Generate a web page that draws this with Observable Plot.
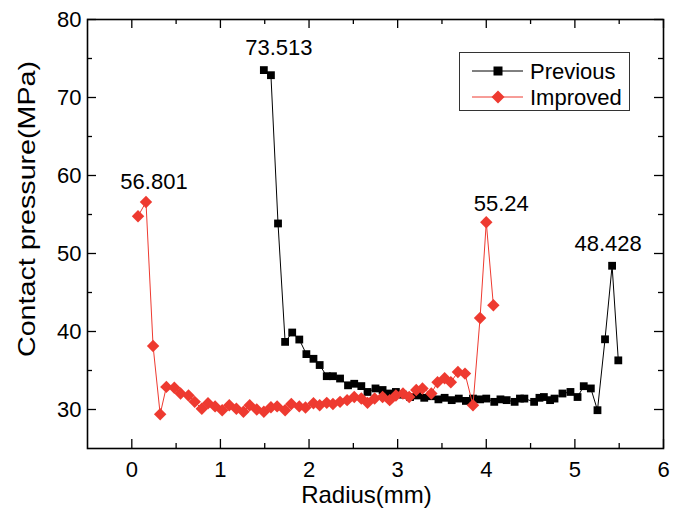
<!DOCTYPE html>
<html>
<head>
<meta charset="utf-8">
<script src="https://cdn.jsdelivr.net/npm/d3@7"></script>
<script src="https://cdn.jsdelivr.net/npm/@observablehq/plot@0.6"></script>
<style>
  html, body { margin: 0; padding: 0; background: #fff; }
  #wrap { position: relative; width: 686px; height: 513px; font-family: "Liberation Sans", Arial, sans-serif; }
  #legend { position: absolute; left: 459px; top: 52px; }
</style>
</head>
<body>
<div id="wrap"></div>
<script>
// ---- data ----
const prevX = [1.49,1.57,1.65,1.73,1.81,1.89,1.97,2.05,2.12,2.20,2.27,2.35,2.44,2.51,2.59,2.66,2.75,2.83,2.91,2.98,3.06,3.14,3.22,3.30,3.38,3.46,3.53,3.61,3.69,3.77,3.85,3.93,4.00,4.09,4.16,4.23,4.32,4.38,4.43,4.54,4.60,4.65,4.72,4.77,4.86,4.95,5.03,5.10,5.18,5.255,5.34,5.42,5.49];
const prevY = [73.513,72.86,53.85,38.67,39.87,38.97,37.1,36.5,35.7,34.27,34.27,33.97,33.1,33.3,33.0,32.25,32.7,32.5,32.05,32.25,31.9,31.6,31.8,31.5,31.7,31.3,31.5,31.2,31.4,31.1,31.4,31.3,31.4,30.98,31.3,31.2,30.98,31.4,31.4,30.98,31.5,31.6,31.2,31.4,32.05,32.25,31.6,32.99,32.7,29.91,39.0,48.428,36.3];
const impX = [0.07,0.16,0.24,0.32,0.39,0.48,0.55,0.64,0.71,0.79,0.86,0.94,1.02,1.10,1.18,1.26,1.33,1.41,1.49,1.57,1.64,1.73,1.80,1.89,1.96,2.05,2.12,2.20,2.27,2.35,2.43,2.51,2.59,2.66,2.74,2.83,2.91,2.98,3.06,3.13,3.21,3.28,3.38,3.45,3.53,3.60,3.68,3.76,3.85,3.93,4.00,4.08];
const impY = [54.78,56.6,38.15,29.4,32.9,32.8,32.05,31.8,30.98,30.1,30.8,30.4,29.9,30.55,30.1,29.7,30.55,30.0,29.7,30.3,30.4,29.9,30.7,30.4,30.25,30.8,30.55,30.85,30.7,30.98,31.2,31.6,31.4,30.85,31.4,31.6,31.2,31.8,32.05,31.6,32.5,32.7,32.05,33.5,34.0,33.5,34.8,34.6,30.55,41.74,54.0,43.37];
const seriesNames = ["Previous", "Improved"];
const xMajor = [0,1,2,3,4,5,6];
const xMinor = [0.5,1.5,2.5,3.5,4.5,5.5];
const yMajor = [30,40,50,60,70,80];
const yMinor = [35,45,55,65,75];
const xTitle = "Radius(mm)";
const yTitle = "Contact pressure(MPa)";
// peak annotations: series, index in series, label
const peakSeries = ["Previous","Improved","Improved","Previous"];
const peakIndex = [0,1,50,51];
const peakText = ["73.513","56.801","55.24","48.428"];

const prev = prevX.map((x,i)=>({x, y: prevY[i]}));
const imp = impX.map((x,i)=>({x, y: impY[i]}));
const peaks = peakText.map((t,i)=>{
  const d = (peakSeries[i]==="Previous" ? prev : imp)[peakIndex[i]];
  return {x: d.x, y: d.y, t};
});
const peakDx = [15, 8, 15, -4];
const peakDy = [-22, -20, -18, -22];

const W = 686, H = 513, mL = 87, mR = 23, mT = 19, mB = 65;
const ph = H - mT - mB, pw = W - mL - mR;
const RED = "#ee3a30";
const Y_TITLE_LEN = 296;

const plot = Plot.plot({
  width: W, height: H,
  marginLeft: mL, marginRight: mR, marginTop: mT, marginBottom: mB,
  x: {domain: [-0.5, 6]},
  y: {domain: [25, 80]},
  style: {fontFamily: '"Liberation Sans", Arial, sans-serif', fontSize: "22px", color: "#000", background: "#fff", overflow: "visible"},
  marks: [
    Plot.axisX(xMajor, {tickSize: 0, tickPadding: 13, label: null, fontSize: 22}),
    Plot.axisY(yMajor, {tickSize: 0, tickPadding: 6, label: null, fontSize: 22}),
    // inward ticks
    Plot.ruleX(xMajor, {x: d=>d, insetTop: ph - 9, strokeWidth: 1.3}),
    Plot.ruleX(xMinor, {x: d=>d, insetTop: ph - 5, strokeWidth: 1.3}),
    Plot.ruleX(xMajor, {x: d=>d, insetBottom: ph - 9, strokeWidth: 1.3}),
    Plot.ruleX(xMinor, {x: d=>d, insetBottom: ph - 5, strokeWidth: 1.3}),
    Plot.ruleY(yMajor, {y: d=>d, insetRight: pw - 9, strokeWidth: 1.3}),
    Plot.ruleY(yMinor, {y: d=>d, insetRight: pw - 5, strokeWidth: 1.3}),
    Plot.ruleY(yMajor, {y: d=>d, insetLeft: pw - 9, strokeWidth: 1.3}),
    Plot.ruleY(yMinor, {y: d=>d, insetLeft: pw - 5, strokeWidth: 1.3}),
    Plot.frame({stroke: "#000", strokeWidth: 1.6}),
    Plot.line(prev, {x: "x", y: "y", stroke: "#000", strokeWidth: 1}),
    Plot.dot(prev, {x: "x", y: "y", symbol: "square", r: 4.4, fill: "#000", stroke: "none"}),
    Plot.line(imp, {x: "x", y: "y", stroke: RED, strokeWidth: 1}),
    Plot.dot(imp, {x: "x", y: "y", symbol: "diamond2", r: 5.6, fill: RED, stroke: "none"}),
    Plot.text(peaks, {x: "x", y: "y", text: "t", fontSize: 22, fill: "#000"}),
    Plot.text([xTitle], {frameAnchor: "bottom", text: d=>d, dx: -9, dy: 54, fontSize: 24, fill: "#000"}),
    Plot.text([yTitle], {frameAnchor: "left", text: d=>d, dx: -60, dy: -25, rotate: -90, fontSize: 24, fill: "#000"})
  ]
});

const wrap = document.getElementById("wrap");
wrap.appendChild(plot);
d3.select(plot).selectAll("text").each(function(){
  const t = this.textContent;
  const i = peakText.indexOf(t);
  if (i >= 0) {
    const tr = this.getAttribute("transform") || "";
    this.setAttribute("transform", tr + ` translate(${peakDx[i]},${peakDy[i]})`);
  }
  if (t === yTitle) {
    // stretch the rotated title along its length like the reference
    this.setAttribute("text-anchor", "start");
    this.setAttribute("x", -Y_TITLE_LEN / 2);
    this.setAttribute("textLength", Y_TITLE_LEN);
    this.setAttribute("lengthAdjust", "spacingAndGlyphs");
  }
});

// legend
const lg = d3.select(wrap).append("svg").attr("id", "legend").attr("width", 172).attr("height", 60);
lg.append("rect").attr("x", 0.5).attr("y", 0.5).attr("width", 170).attr("height", 58)
  .attr("fill", "#fff").attr("stroke", "#333").attr("stroke-width", 1);
const rowsY = [19, 45];
const colors = ["#000", RED];
seriesNames.forEach((name, i) => {
  const g = lg.append("g").attr("transform", `translate(0,${rowsY[i]})`);
  g.append("line").attr("x1", 13).attr("x2", 64).attr("y1", 0).attr("y2", 0).attr("stroke", colors[i]).attr("stroke-width", 1);
  if (i === 0) g.append("rect").attr("x", 34.5).attr("y", -4.5).attr("width", 9).attr("height", 9).attr("fill", colors[i]);
  else g.append("path").attr("d", "M39,-6.5L45.5,0L39,6.5L32.5,0Z").attr("fill", colors[i]);
  g.append("text").attr("x", 71).attr("y", 0).attr("dy", "0.36em").attr("font-size", 22)
    .attr("font-family", '"Liberation Sans", Arial, sans-serif').text(name);
});
</script>
</body>
</html>
